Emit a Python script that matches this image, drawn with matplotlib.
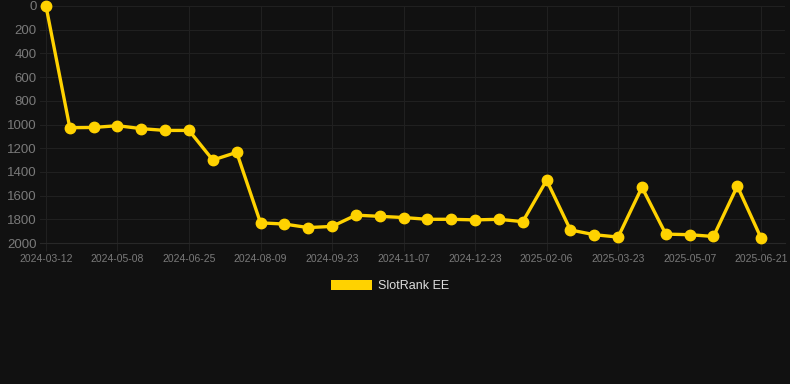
import matplotlib

matplotlib.use("Agg")
import matplotlib.pyplot as plt
from matplotlib.patches import Patch
import numpy as np

plt.rcParams["font.family"] = ["Liberation Sans", "DejaVu Sans"]

FONDO = "#111111"
AMARILLO = "#FFD200"
REJILLA = "#202020"
TEXTO = "#7a7a7a"

ranking = [
    0, 1027, 1025, 1010, 1035, 1050, 1050, 1300, 1235, 1830,
    1840, 1870, 1860, 1765, 1775, 1785, 1800, 1800, 1805, 1800,
    1820, 1470, 1890, 1930, 1950, 1530, 1925, 1930, 1945, 1520,
    1960,
]
etiquetas = [
    "2024-03-12", "2024-05-08", "2024-06-25", "2024-08-09", "2024-09-23",
    "2024-11-07", "2024-12-23", "2025-02-06", "2025-03-23", "2025-05-07",
    "2025-06-21",
]
serie = "SlotRank EE"

x = np.arange(len(ranking))

fig = plt.figure(figsize=(7.9, 3.84), dpi=100)
fig.patch.set_facecolor(FONDO)
ax = fig.add_axes([40 / 790, 1 - 243 / 384, 745 / 790, 237 / 384])
ax.set_facecolor(FONDO)

ax.plot(x, ranking, color=AMARILLO, linewidth=2.4, marker="o",
        markersize=7.5, clip_on=False, zorder=3)

ax.set_xlim(-0.25, 31)
ax.set_ylim(2000, 0)
ax.set_yticks(np.arange(0, 2001, 200))
ax.set_xticks(x[::3], etiquetas)

ax.grid(True, color=REJILLA, linewidth=0.8)
ax.set_axisbelow(True)
for lado in ("top", "right", "left"):
    ax.spines[lado].set_visible(False)
ax.spines["bottom"].set_color("#282828")
ax.tick_params(axis="y", colors=TEXTO, labelsize=9.5, length=0, pad=2.5)
ax.tick_params(axis="x", colors=TEXTO, labelsize=7.5, length=6, pad=2,
               color=REJILLA)

fig.legend(
    handles=[Patch(facecolor=AMARILLO, label=serie)],
    loc="center",
    bbox_to_anchor=(390 / 790, 1 - 286 / 384),
    frameon=False,
    handlelength=3.3,
    handleheight=0.95,
    handletextpad=0.5,
    labelcolor="#dddddd",
    fontsize=9,
)

fig.savefig("out.png", dpi=100, facecolor=FONDO)
